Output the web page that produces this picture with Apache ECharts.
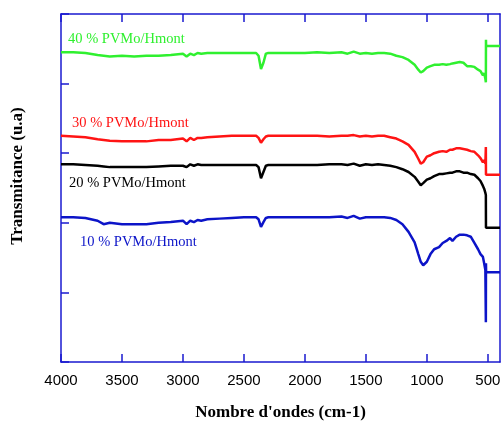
<!DOCTYPE html>
<html>
<head>
<meta charset="utf-8">
<script src="https://cdn.jsdelivr.net/npm/echarts@6/dist/echarts.min.js"></script>
<style>
  html, body { margin: 0; padding: 0; background: #fff; }
  #main { width: 501px; height: 421px; }
</style>
</head>
<body>
<div id="main"></div>
<script>
// nombre d'ondes (cm-1), common to all spectra
var waves = [4000, 3900, 3800, 3700, 3650, 3600, 3500, 3400, 3300, 3200, 3100, 3000, 2970, 2940, 2910, 2880, 2850, 2800, 2700, 2600, 2500, 2400, 2380, 2360, 2340, 2320, 2300, 2200, 2100, 2000, 1900, 1800, 1700, 1650, 1600, 1550, 1500, 1450, 1400, 1350, 1300, 1250, 1200, 1150, 1100, 1070, 1050, 1030, 1000, 970, 940, 900, 870, 840, 810, 790, 760, 730, 700, 670, 640, 610, 580, 560, 540, 530, 520, 516, 515, 514, 500, 450, 400];

var pct40 = [4.45, 4.45, 4.44, 4.41, 4.40, 4.39, 4.40, 4.39, 4.40, 4.40, 4.41, 4.43, 4.39, 4.43, 4.41, 4.44, 4.43, 4.44, 4.44, 4.44, 4.44, 4.44, 4.40, 4.21, 4.30, 4.43, 4.44, 4.44, 4.44, 4.44, 4.45, 4.44, 4.45, 4.43, 4.46, 4.43, 4.44, 4.43, 4.44, 4.44, 4.43, 4.40, 4.38, 4.34, 4.27, 4.20, 4.16, 4.18, 4.23, 4.25, 4.27, 4.27, 4.28, 4.27, 4.28, 4.29, 4.30, 4.31, 4.30, 4.25, 4.25, 4.24, 4.20, 4.18, 4.12, 4.15, 4.07, 4.02, 4.63, 4.54, 4.54, 4.54, 4.54];

var pct30 = [3.25, 3.24, 3.23, 3.20, 3.19, 3.18, 3.17, 3.17, 3.17, 3.19, 3.19, 3.21, 3.17, 3.22, 3.19, 3.22, 3.22, 3.23, 3.24, 3.25, 3.25, 3.25, 3.22, 3.15, 3.20, 3.24, 3.25, 3.25, 3.25, 3.25, 3.25, 3.24, 3.25, 3.25, 3.26, 3.24, 3.25, 3.24, 3.25, 3.25, 3.23, 3.21, 3.17, 3.12, 3.02, 2.92, 2.85, 2.87, 2.95, 2.97, 3.00, 3.02, 3.03, 3.02, 3.05, 3.05, 3.07, 3.07, 3.06, 3.05, 3.03, 3.02, 2.97, 2.93, 2.87, 2.90, 2.85, 3.09, 2.69, 2.69, 2.69, 2.69, 2.69];

var pct20 = [2.84, 2.84, 2.83, 2.82, 2.81, 2.80, 2.80, 2.80, 2.80, 2.81, 2.82, 2.82, 2.80, 2.84, 2.82, 2.84, 2.83, 2.83, 2.83, 2.83, 2.83, 2.83, 2.80, 2.64, 2.73, 2.82, 2.83, 2.83, 2.83, 2.83, 2.83, 2.84, 2.84, 2.83, 2.85, 2.82, 2.84, 2.83, 2.84, 2.83, 2.82, 2.80, 2.77, 2.73, 2.66, 2.59, 2.54, 2.57, 2.62, 2.64, 2.67, 2.70, 2.70, 2.71, 2.72, 2.72, 2.74, 2.74, 2.72, 2.72, 2.70, 2.69, 2.64, 2.60, 2.53, 2.49, 2.43, 2.40, 1.93, 1.93, 1.93, 1.93, 1.93];

var pct10 = [2.08, 2.08, 2.07, 2.03, 1.98, 2.00, 1.98, 1.98, 1.98, 2.00, 2.01, 2.03, 1.98, 2.03, 2.01, 2.04, 2.03, 2.05, 2.06, 2.07, 2.08, 2.08, 2.05, 1.94, 2.01, 2.07, 2.08, 2.08, 2.08, 2.08, 2.08, 2.08, 2.09, 2.07, 2.10, 2.06, 2.08, 2.08, 2.08, 2.08, 2.07, 2.04, 1.98, 1.87, 1.72, 1.55, 1.44, 1.39, 1.44, 1.55, 1.62, 1.65, 1.71, 1.74, 1.78, 1.74, 1.80, 1.83, 1.83, 1.82, 1.80, 1.71, 1.62, 1.55, 1.51, 1.42, 1.32, 0.57, 1.42, 1.29, 1.29, 1.29, 1.29];

var names = ['40 % PVMo/Hmont', '30 % PVMo/Hmont', '20 % PVMo/Hmont', '10 % PVMo/Hmont'];
var colors = ['#2ff02f', '#ff1414', '#000000', '#0c14c8'];
var xTicks = [500, 1000, 1500, 2000, 2500, 3000, 3500, 4000];

var axisBlue = '#1a1ad0';
var labelFont = '14.5px "Liberation Serif"';

function pairs(ys) {
  return waves.map(function (w, i) { return [w, ys[i]]; });
}

var myChart = echarts.init(document.getElementById('main'));

myChart.setOption({
  animation: false,
  grid: { left: 61, right: 1, top: 14, bottom: 59, outerBoundsMode: 'none', containLabel: false },
  xAxis: [
    {
      type: 'value',
      inverse: true,
      min: 400,
      max: 4000,
      position: 'bottom',
      name: "Nombre d'ondes (cm-1)",
      nameLocation: 'middle',
      nameGap: 42,
      nameTextStyle: { fontFamily: 'Liberation Serif', fontWeight: 'bold', fontSize: 17, color: '#000' },
      axisLine: { lineStyle: { color: axisBlue, width: 1.5 } },
      axisTick: { inside: true, length: 8, customValues: xTicks, lineStyle: { color: axisBlue, width: 1.5 } },
      axisLabel: {
        customValues: xTicks, margin: 11, fontFamily: 'Liberation Sans', fontSize: 15, color: '#000',
        formatter: function (v) { return String(v); }
      },
      splitLine: { show: false }
    },
    {
      type: 'value',
      inverse: true,
      min: 400,
      max: 4000,
      position: 'top',
      axisLine: { show: true, onZero: false, lineStyle: { color: axisBlue, width: 1.5 } },
      axisTick: { show: true, inside: true, length: 8, customValues: xTicks, lineStyle: { color: axisBlue, width: 1.5 } },
      axisLabel: { show: false },
      splitLine: { show: false }
    }
  ],
  yAxis: [
    {
      type: 'value',
      min: 0,
      max: 5,
      interval: 1,
      position: 'left',
      axisLine: { show: true, lineStyle: { color: axisBlue, width: 1.5 } },
      axisTick: { inside: true, length: 8, lineStyle: { color: axisBlue, width: 1.5 } },
      axisLabel: { show: false },
      splitLine: { show: false }
    },
    {
      type: 'value',
      min: 0,
      max: 5,
      interval: 1,
      position: 'right',
      axisLine: { show: true, onZero: false, lineStyle: { color: axisBlue, width: 1.5 } },
      axisTick: { show: false },
      axisLabel: { show: false },
      splitLine: { show: false }
    }
  ],
  series: [pct40, pct30, pct20, pct10].map(function (ys, i) {
    return {
      name: names[i],
      type: 'line',
      showSymbol: false,
      data: pairs(ys),
      lineStyle: { color: colors[i], width: 2.5 },
      itemStyle: { color: colors[i] }
    };
  }),
  graphic: [
    // titre de l'axe Y, décalé vers le haut comme sur la figure
    { type: 'text', x: 18, y: 176, rotation: Math.PI / 2, style: { text: 'Transmitance (u.a)', fill: '#000', font: 'bold 17px "Liberation Serif"', align: 'center', verticalAlign: 'middle' } },
    { type: 'text', x: 68, y: 39, style: { text: names[0], fill: colors[0], font: labelFont, verticalAlign: 'middle' } },
    { type: 'text', x: 72, y: 123, style: { text: names[1], fill: colors[1], font: labelFont, verticalAlign: 'middle' } },
    { type: 'text', x: 69, y: 183, style: { text: names[2], fill: colors[2], font: labelFont, verticalAlign: 'middle' } },
    { type: 'text', x: 80, y: 242, style: { text: names[3], fill: colors[3], font: labelFont, verticalAlign: 'middle' } }
  ]
});
</script>
</body>
</html>
